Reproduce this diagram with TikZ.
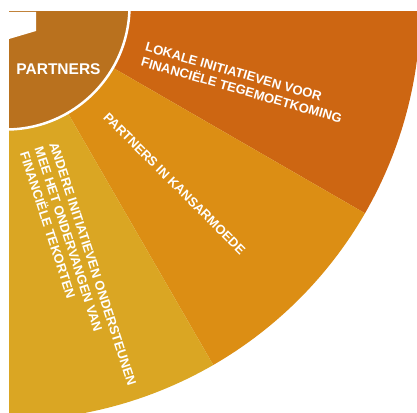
\documentclass[tikz,border=0pt]{standalone}
\usepackage{fontspec}
\setmainfont{Liberation Sans}
\definecolor{ctop}{HTML}{CD6612}
\definecolor{cmid}{HTML}{DC8E14}
\definecolor{cbot}{HTML}{DAA623}
\definecolor{cin}{HTML}{B9711E}
\tikzset{
  lbl/.style={text=white, inner sep=0pt, font=\bfseries\fontsize{13}{15.5}\selectfont, align=left},
  centerlbl/.style={text=white, inner sep=0pt, font=\bfseries\fontsize{15.5}{18}\selectfont}
}
\begin{document}
\begin{tikzpicture}[x=1pt,y=-1pt]
\fill[white] (0,0) rectangle (417,412);
\useasboundingbox (0,0) rectangle (417,412);
\coordinate (C) at (6,6);
\begin{scope}
\clip (9,12) rectangle (417,412);
\fill[ctop] (C) -- ++(-5:414.5) arc[start angle=-5, end angle=30, radius=414.5] -- cycle;
\fill[cmid] (C) -- ++(30:414.5) arc[start angle=30, end angle=60, radius=414.5] -- cycle;
\fill[cbot] (C) -- ++(60:414.5) arc[start angle=60, end angle=95, radius=414.5] -- cycle;
\fill[cin, draw=white, line width=2.5pt] (C) circle[radius=123.5];
\fill[white] (9,12) -- (36,12) -- (36,31) -- (9,39) -- cycle;
\end{scope}
\node[centerlbl] (center) at (58.5,69) {PARTNERS};
\node[lbl, anchor=north west, rotate=-16] (top) at (147,42) {LOKALE INITIATIEVEN VOOR\\FINANCIËLE TEGEMOETKOMING};
\node[lbl, rotate=-45] (mid) at (174.5,183.5) {PARTNERS IN KANSARMOEDE};
\node[lbl, anchor=north west, rotate=-72] (bot) at (58,141) {ANDERE INITIATIEVEN ONDERSTEUNEN\\MEE HET ONDERVANGEN VAN\\FINANCIËLE TEKORTEN};
\end{tikzpicture}
\end{document}
